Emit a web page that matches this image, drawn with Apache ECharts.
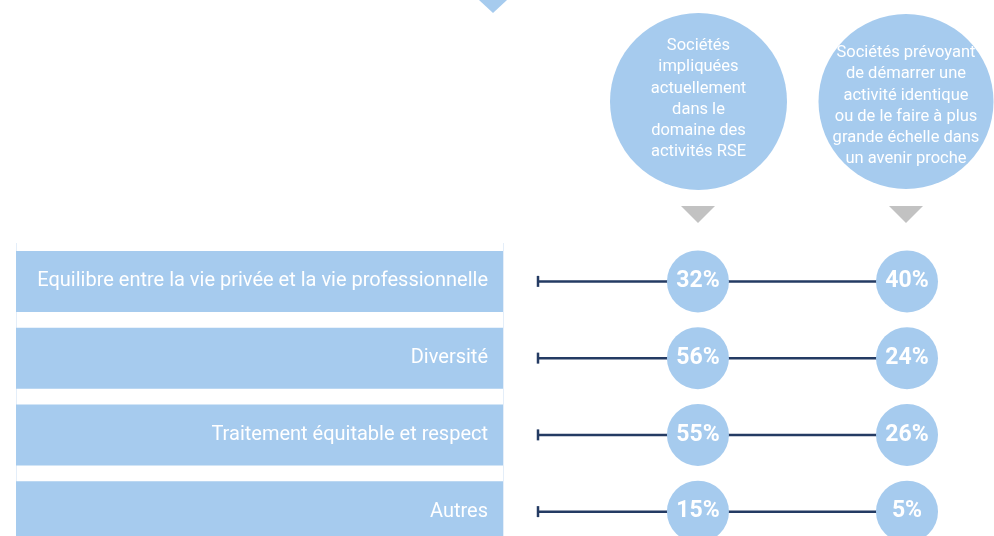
<!DOCTYPE html>
<html>
<head>
<meta charset="utf-8">
<script src="https://cdn.jsdelivr.net/npm/echarts@6/dist/echarts.min.js"></script>
<style>
  html, body { margin: 0; padding: 0; background: #ffffff; }
  #chart { width: 994px; height: 536px; }
</style>
</head>
<body>
<div id="chart"></div>
<script>
// Domaines d'activité RSE et part des sociétés concernées
const categories = [
  'Equilibre entre la vie privée et la vie professionnelle',
  'Diversité',
  'Traitement équitable et respect',
  'Autres'
];
const actuellement = [32, 56, 55, 15];
const prevoyant = [40, 24, 26, 5];
const columnTitles = [
  'Sociétés\nimpliquées\nactuellement\ndans le\ndomaine des\nactivités RSE',
  'Sociétés prévoyant\nde démarrer une\nactivité identique\nou de le faire à plus\ngrande échelle dans\nun avenir proche'
];

const FONT = "'Roboto', 'Noto Sans', sans-serif";
const BLUE = '#a6cbee';
const NAVY = '#243b63';
// horizontal placement of the two value columns within the dot grid
const COL_X = [0.435, 1];

const rowIdx = categories.map((_, i) => i);

const chart = echarts.init(document.getElementById('chart'), null, { renderer: 'canvas' });

const gridTop = 243;
const gridHeight = 307;

chart.setOption({
  animation: false,
  backgroundColor: '#ffffff',
  grid: [
    { left: 16, width: 487, top: gridTop, height: gridHeight, outerBoundsMode: 'none' },
    { left: 537, right: 87, top: gridTop, height: gridHeight, outerBoundsMode: 'none' }
  ],
  xAxis: [
    {
      gridIndex: 0, type: 'value', min: 0, max: 1, interval: 1,
      axisLine: { show: false }, axisTick: { show: false }, axisLabel: { show: false },
      splitLine: { show: true, lineStyle: { color: '#e4eef9', width: 1 } }
    },
    {
      gridIndex: 1, type: 'value', min: 0, max: 1,
      axisLine: { show: false }, axisTick: { show: false }, axisLabel: { show: false },
      splitLine: { show: false }
    }
  ],
  yAxis: [
    {
      gridIndex: 0, type: 'category', data: categories, inverse: true,
      axisLine: { show: false }, axisTick: { show: false }, axisLabel: { show: false }
    },
    {
      gridIndex: 1, type: 'category', data: categories, inverse: true,
      axisLine: { show: false }, axisTick: { show: false }, axisLabel: { show: false }
    }
  ],
  series: [
    {
      // bandeaux des catégories
      type: 'bar',
      xAxisIndex: 0, yAxisIndex: 0,
      data: categories.map(() => 1),
      barWidth: 61,
      itemStyle: { color: BLUE },
      label: {
        show: true,
        position: 'insideRight',
        distance: 15,
        formatter: (p) => categories[p.dataIndex],
        color: '#ffffff',
        fontFamily: FONT,
        fontSize: 20
      },
      silent: true
    },
    {
      // traits reliant les deux colonnes
      type: 'custom',
      xAxisIndex: 1, yAxisIndex: 1,
      data: rowIdx,
      renderItem: (params, api) => {
        const row = api.value(0);
        const a = api.coord([0, row]);
        const b = api.coord([1, row]);
        return {
          type: 'group',
          children: [
            { type: 'line', shape: { x1: a[0], y1: a[1], x2: b[0], y2: b[1] },
              style: { stroke: NAVY, lineWidth: 2.5 } },
            { type: 'line', shape: { x1: a[0] + 1, y1: a[1] - 5.5, x2: a[0] + 1, y2: a[1] + 5.5 },
              style: { stroke: NAVY, lineWidth: 2.5 } }
          ]
        };
      },
      silent: true
    },
    ...[actuellement, prevoyant].map((vals, c) => ({
      type: 'scatter',
      xAxisIndex: 1, yAxisIndex: 1,
      data: vals.map((v, i) => [COL_X[c], i, v]),
      symbolSize: 62,
      itemStyle: { color: BLUE, opacity: 1 },
      label: {
        show: true,
        position: 'inside',
        formatter: (p) => p.value[2] + '%',
        color: '#ffffff',
        fontFamily: FONT,
        fontWeight: 'bold',
        fontSize: 23
      },
      z: 3,
      silent: true
    }))
  ],
  graphic: [
    // flèche du haut
    { type: 'polygon', shape: { points: [[479, 0], [507, 0], [493, 13]] }, style: { fill: BLUE } },
    // en-têtes des colonnes
    { type: 'circle', shape: { cx: 698.5, cy: 101.5, r: 88.5 }, style: { fill: BLUE } },
    { type: 'circle', shape: { cx: 906, cy: 101.5, r: 87.5 }, style: { fill: BLUE } },
    { type: 'text', x: 698.5, y: 99, style: {
        text: columnTitles[0], fill: '#ffffff', font: "16.5px " + FONT,
        align: 'center', verticalAlign: 'middle', lineHeight: 21.2 } },
    { type: 'text', x: 906, y: 106, style: {
        text: columnTitles[1], fill: '#ffffff', font: "16.5px " + FONT,
        align: 'center', verticalAlign: 'middle', lineHeight: 21.2 } },
    // flèches grises
    { type: 'polygon', shape: { points: [[681, 206], [715, 206], [698, 223]] }, style: { fill: '#c2c2c2' } },
    { type: 'polygon', shape: { points: [[889, 206], [923, 206], [906, 223]] }, style: { fill: '#c2c2c2' } }
  ]
});
</script>
</body>
</html>
